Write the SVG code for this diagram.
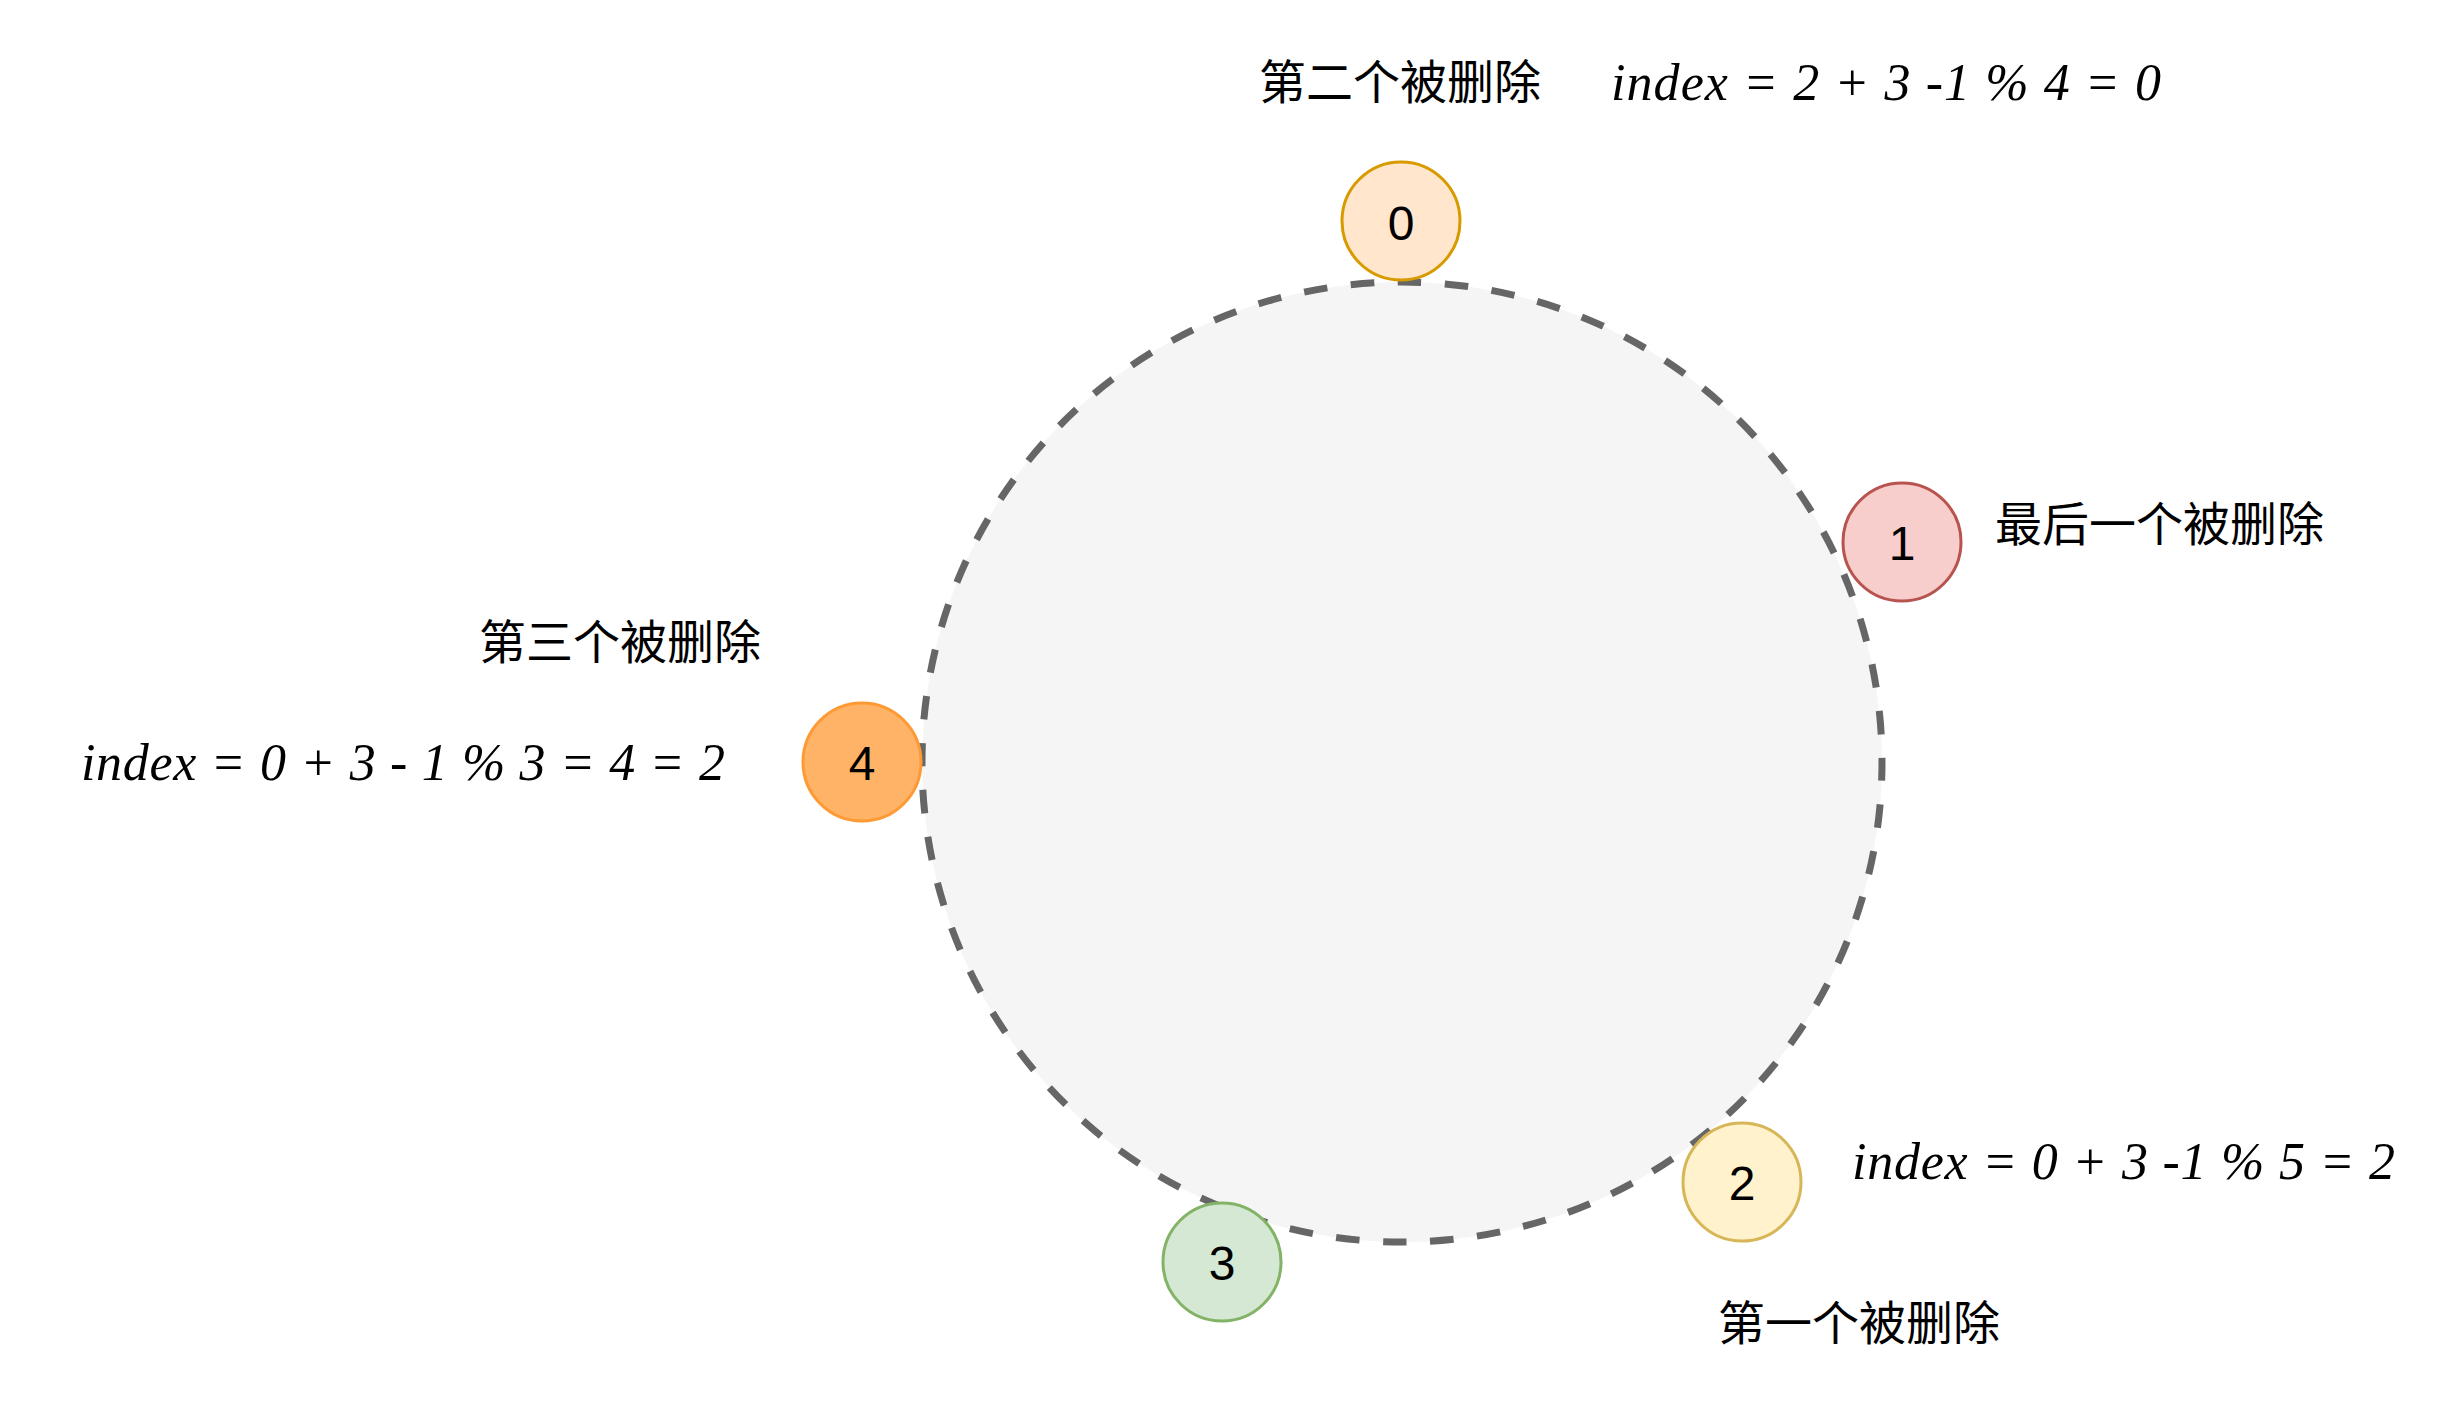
<svg xmlns="http://www.w3.org/2000/svg" width="2464" height="1404" viewBox="0 0 2464 1404">
<style>
.cjk{font-family:"Noto Sans CJK SC","Noto Sans",sans-serif;font-size:47px;font-weight:400;fill:#000}
.math{font-family:"Liberation Serif","DejaVu Serif",serif;font-style:italic;font-size:52px;fill:#000}
.num{font-family:"Liberation Sans",Arial,sans-serif;font-size:48px;fill:#000;text-anchor:middle}
.node{stroke-width:3}
</style>
<rect width="2464" height="1404" fill="#ffffff"/>
<g id="ring">
<circle cx="1402" cy="762" r="480" fill="#f5f5f5" stroke="#666666" stroke-width="7" stroke-dasharray="23.562 23.562" stroke-dashoffset="4.7"/>
</g>
<g id="connectors"></g>
<g id="node0">
<circle class="node" cx="1401" cy="221" r="59" fill="#ffe6cc" stroke="#d79b00"/>
<text class="num" x="1401" y="240">0</text>
</g>
<g id="node1">
<circle class="node" cx="1902" cy="542" r="59" fill="#f8cecc" stroke="#b85450"/>
<text class="num" x="1902" y="560">1</text>
</g>
<g id="node2">
<circle class="node" cx="1742" cy="1182" r="59" fill="#fff2cc" stroke="#d6b656"/>
<text class="num" x="1742" y="1200">2</text>
</g>
<g id="node3">
<circle class="node" cx="1222" cy="1262" r="59" fill="#d5e8d4" stroke="#82b366"/>
<text class="num" x="1222" y="1280">3</text>
</g>
<g id="node4">
<circle class="node" cx="862" cy="762" r="59" fill="#ffb366" stroke="#ff9933"/>
<text class="num" x="862" y="780">4</text>
</g>
<g id="labels">
<text class="cjk" x="1259" y="99">第二个被删除</text>
<text class="math" x="1611" y="100" textLength="550" lengthAdjust="spacing">index = 2 + 3 -1 % 4 = 0</text>
<text class="cjk" x="1995" y="541">最后一个被删除</text>
<text class="cjk" x="479" y="659">第三个被删除</text>
<text class="math" x="81" y="780" textLength="644" lengthAdjust="spacing">index = 0 + 3 - 1 % 3 = 4 = 2</text>
<text class="math" x="1852" y="1179" textLength="543" lengthAdjust="spacing">index = 0 + 3 -1 % 5 = 2</text>
<text class="cjk" x="1718" y="1340">第一个被删除</text>
</g>
</svg>
